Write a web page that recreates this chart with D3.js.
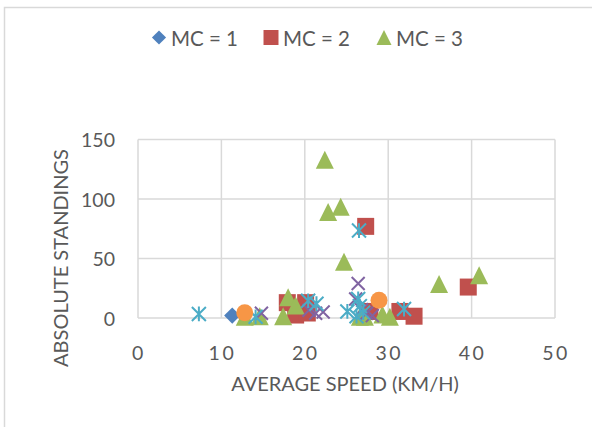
<!DOCTYPE html>
<html>
<head>
<meta charset="utf-8">
<script src="https://cdn.jsdelivr.net/npm/d3@7"></script>
<style>
  html, body { margin: 0; padding: 0; background: #fff; }
  svg { display: block; }
  text { font-family: Lato, "Open Sans", sans-serif; fill: #595959; }
</style>
</head>
<body>
<svg id="chart" width="592" height="427"></svg>
<script>
// ---- data ----
const xTicks = [0, 10, 20, 30, 40, 50];
const yTicks = [0, 50, 100, 150];
const xTitle = "AVERAGE SPEED (KM/H)";
const yTitle = "ABSOLUTE STANDINGS";
const legendNames = ["MC = 1", "MC = 2", "MC = 3"];

const mc1 = [[11.3, 2]];
const mc2 = [[27.3, 77], [39.6, 26], [33.1, 1.5], [31.4, 5.5], [17.9, 12.9], [20.1, 12.9],
             [18.9, 2.5], [20.3, 4.2], [27.8, 5.5]];
const mc3 = [[22.4, 133], [24.3, 93.5], [22.8, 89], [24.7, 47.3], [36.1, 28.6], [40.9, 36],
             [18, 17.5], [18.9, 10.5], [17.4, 1.5], [14.6, 1.5], [12.8, 1], [26.6, 1],
             [27.2, 1], [29.3, 3], [30.2, 1]];
const mc4 = [[26.4, 29], [26.1, 16], [14.8, 4], [22.2, 5], [20.5, 6.5], [27.4, 4],
             [28.1, 2], [26.8, 7], [21.3, 4]];
const mc5 = [[7.3, 3.4], [14.1, 1], [20.4, 14.5], [21.4, 12], [25.1, 5.5], [26.4, 16],
             [26.2, 1.5], [27, 4.5], [31.9, 7.5], [26.5, 73.5], [26.6, 10]];
const mc6 = [[12.8, 4.5], [28.9, 15]];

// ---- layout ----
const svg = d3.select("#chart");
const W = 592, H = 427;
const x = d3.scaleLinear().domain([0, 50]).range([138, 555]);
const y = d3.scaleLinear().domain([0, 150]).range([318, 139.5]);

const colors = ["#4F81BD", "#C0504D", "#9BBB59", "#8064A2", "#4BACC6", "#F79646"];

svg.append("rect").attr("width", W).attr("height", H).attr("fill", "#fff");
// chart frame (extends beyond right/bottom edge)
svg.append("rect").attr("x", 4.5).attr("y", 7.5).attr("width", W + 10).attr("height", H + 10)
  .attr("fill", "none").attr("stroke", "#d9d9d9").attr("stroke-width", 1.5);

// gridlines
const grid = svg.append("g").attr("stroke", "#d9d9d9").attr("stroke-width", 1.5);
grid.selectAll("line.v").data(xTicks).join("line")
  .attr("x1", d => x(d)).attr("x2", d => x(d)).attr("y1", y(150)).attr("y2", y(0));
grid.selectAll("line.h").data(yTicks).join("line")
  .attr("y1", d => y(d)).attr("y2", d => y(d)).attr("x1", x(0)).attr("x2", x(50));

// tick labels
svg.append("g").selectAll("text").data(xTicks).join("text")
  .attr("x", d => x(d) + 1).attr("y", 352).attr("text-anchor", "middle")
  .attr("dominant-baseline", "central").attr("font-size", 19.5).attr("letter-spacing", 2.5)
  .text(d => d);
svg.append("g").selectAll("text").data(yTicks).join("text")
  .attr("x", 115).attr("y", d => y(d)).attr("text-anchor", "end")
  .attr("dominant-baseline", "central").attr("font-size", 19.5)
  .text(d => d);

// axis titles
svg.append("text").attr("x", 345).attr("y", 383).attr("text-anchor", "middle")
  .attr("dominant-baseline", "central").attr("font-size", 20).text(xTitle);
svg.append("text").attr("transform", "translate(60,258) rotate(-90)").attr("text-anchor", "middle")
  .attr("dominant-baseline", "central").attr("font-size", 20).text(yTitle);

// custom marker shapes
const diamondType = { draw(ctx, size) { const r = Math.sqrt(size) / 2 * Math.SQRT2;
  ctx.moveTo(0, -r); ctx.lineTo(r, 0); ctx.lineTo(0, r); ctx.lineTo(-r, 0); ctx.closePath(); } };
const squareType = { draw(ctx, size) { const s = Math.sqrt(size) / 2;
  ctx.rect(-s, -s, 2 * s, 2 * s); } };
const triType = { draw(ctx, size) { const s = Math.sqrt(size) / 2;
  ctx.moveTo(0, -s); ctx.lineTo(s, s); ctx.lineTo(-s, s); ctx.closePath(); } };
const xType = { draw(ctx, size) { const s = Math.sqrt(size) / 2;
  ctx.moveTo(-s, -s); ctx.lineTo(s, s); ctx.moveTo(s, -s); ctx.lineTo(-s, s); } };
const starType = { draw(ctx, size) { const s = Math.sqrt(size) / 2;
  ctx.moveTo(-s, -s); ctx.lineTo(s, s); ctx.moveTo(s, -s); ctx.lineTo(-s, s);
  ctx.moveTo(0, -s * 1.05); ctx.lineTo(0, s * 1.05); } };

const series = [
  { data: mc1, type: diamondType, size: 11.5 * 11.5, fill: true },
  { data: mc2, type: squareType, size: 17 * 17, fill: true },
  { data: mc3, type: triType, size: 18 * 18, fill: true },
  { data: mc4, type: xType, size: 13 * 13, fill: false },
  { data: mc5, type: starType, size: 14 * 14, fill: false },
  { data: mc6, type: d3.symbolCircle, size: Math.PI * 8.5 * 8.5, fill: true }
];

const pts = svg.append("g");
series.forEach((s, i) => {
  pts.append("g").selectAll("path").data(s.data).join("path")
    .attr("transform", d => `translate(${x(d[0])},${y(d[1])})`)
    .attr("d", d3.symbol().type(s.type).size(s.size))
    .attr("fill", s.fill ? colors[i] : "none")
    .attr("stroke", s.fill ? "none" : colors[i])
    .attr("stroke-width", 2);
});

// legend
const legendX = [159, 271, 384];
const legendSym = [{ type: diamondType, size: 10 * 10 }, { type: squareType, size: 15 * 15 }, { type: triType, size: 15 * 15 }];
const lg = svg.append("g");
legendNames.forEach((n, i) => {
  lg.append("path").attr("transform", `translate(${legendX[i]},37.5)`)
    .attr("d", d3.symbol().type(legendSym[i].type).size(legendSym[i].size))
    .attr("fill", colors[i]);
  lg.append("text").attr("x", legendX[i] + 12).attr("y", 37.5)
    .attr("dominant-baseline", "central").attr("font-size", 20.5).text(n);
});
</script>
</body>
</html>
